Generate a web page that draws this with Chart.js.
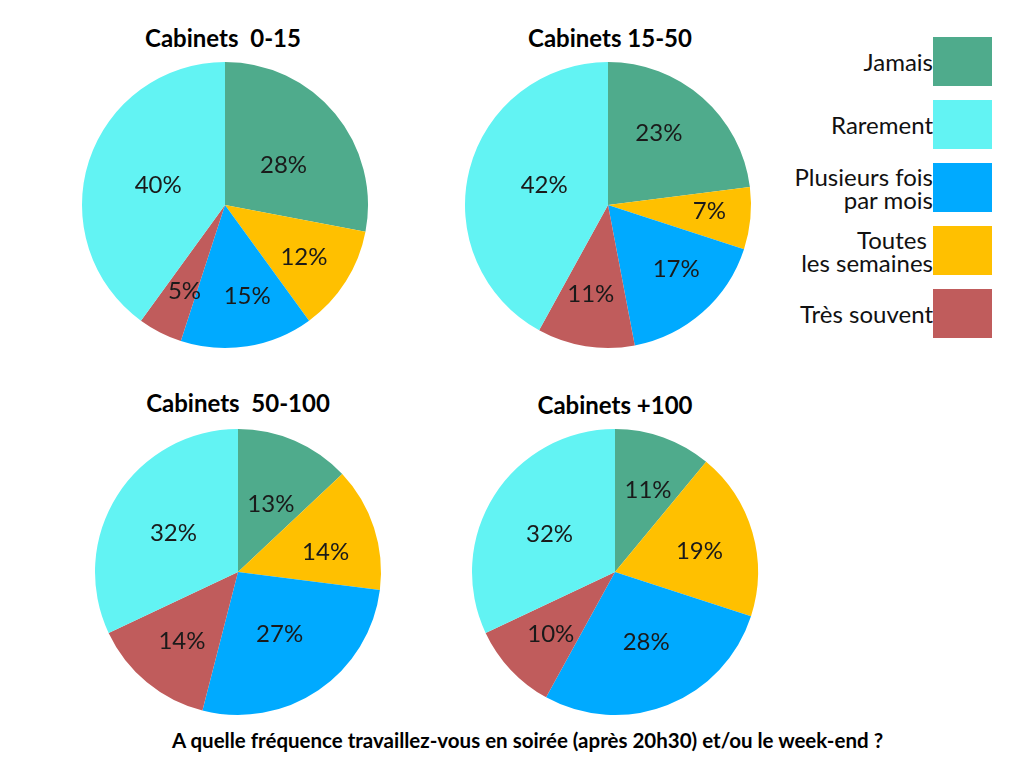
<!DOCTYPE html>
<html>
<head>
<meta charset="utf-8">
<script src="https://cdn.jsdelivr.net/npm/chart.js@4.4.1/dist/chart.umd.min.js"></script>
<style>
  body { margin: 0; background: #fff; font-family: Lato, sans-serif; }
  #page { position: relative; width: 1024px; height: 768px; overflow: hidden; }
  .pie { position: absolute; width: 300px; height: 300px; }
  .title { position: absolute; width: 300px; font-weight: bold; font-size: 24px; line-height: 24px;
           text-align: center; white-space: pre; color: #000; }
  #legend { position: absolute; left: 650px; top: 37px; width: 342px; }
  .leg-row { display: flex; justify-content: flex-end; align-items: center; height: 49px; margin-bottom: 14px; }
  .leg-text { text-align: right; font-size: 24px; line-height: 23px; white-space: pre; color: #111; }
  .leg-box { width: 59px; height: 49px; flex: none; }
  #note { position: absolute; left: 0; width: 1055px; top: 730px; text-align: center; font-weight: bold;
          font-size: 20.5px; line-height: 20.5px; color: #000; white-space: nowrap; }
</style>
</head>
<body>
<div id="page">
  <div id="legend"></div>
  <div id="note">A quelle fréquence travaillez-vous en soirée (après 20h30) et/ou le week-end ?</div>
</div>
<script>
// slice order, clockwise from 12 o'clock
const categories = ['Jamais', 'Toutes \nles semaines', 'Plusieurs fois\npar mois', 'Très souvent', 'Rarement'];
const colors = ['#4fab8c', '#ffc000', '#00aaff', '#c05c5c', '#62f3f3'];
const legendOrder = [0, 4, 2, 1, 3];

const titles = ['Cabinets  0-15', 'Cabinets 15-50', 'Cabinets  50-100', 'Cabinets +100'];
const cab0_15 = [28, 12, 15, 5, 40];
const cab15_50 = [23, 7, 17, 11, 42];
const cab50_100 = [13, 14, 27, 14, 32];
const cab100 = [11, 19, 28, 10, 32];
const series = [cab0_15, cab15_50, cab50_100, cab100];

// where each pie sits and where its labels go (radius fraction, angle nudge in degrees)
const centers = [[225, 205], [608, 205], [238, 572], [615, 572]];
const titleBaselines = [47, 47, 412, 414];
const titleCenters = [223, 610, 238, 615];
const labelRadius = [
  [0.50, 0.66, 0.65, 0.66, 0.49],
  [0.62, 0.71, 0.65, 0.63, 0.47],
  [0.53, 0.63, 0.52, 0.62, 0.53],
  [0.62, 0.61, 0.53, 0.62, 0.53]
];
const labelNudge = [
  [4.6, 0.8, -4.8, -1.6, -0.4],
  [-6.4, -2.6, -5.8, 2, 3.9],
  [2.3, 4.6, 0.2, -0.4, -0.8],
  [2.1, 1.7, -2.7, -0.4, -2.1]
];

const page = document.getElementById('page');

const pctLabels = {
  id: 'pctLabels',
  afterDatasetsDraw(chart) {
    const ctx = chart.ctx;
    const meta = chart.getDatasetMeta(0);
    const opts = chart.options.plugins.pctLabels;
    ctx.save();
    ctx.font = '24px Lato';
    ctx.fillStyle = '#1a1a1a';
    ctx.textAlign = 'center';
    ctx.textBaseline = 'middle';
    meta.data.forEach(function (arc, i) {
      const p = arc.getProps(['x', 'y', 'startAngle', 'endAngle', 'outerRadius'], true);
      const mid = (p.startAngle + p.endAngle) / 2 + opts.nudge[i] * Math.PI / 180;
      const r = p.outerRadius * opts.radius[i];
      ctx.fillText(chart.data.datasets[0].data[i] + '%', p.x + Math.cos(mid) * r, p.y + Math.sin(mid) * r + 1);
    });
    ctx.restore();
  }
};

series.forEach(function (vals, k) {
  const c = centers[k];
  const wrap = document.createElement('div');
  wrap.className = 'pie';
  wrap.style.left = (c[0] - 150) + 'px';
  wrap.style.top = (c[1] - 150) + 'px';
  const cv = document.createElement('canvas');
  cv.width = 300; cv.height = 300;
  wrap.appendChild(cv);
  page.appendChild(wrap);

  const t = document.createElement('div');
  t.className = 'title';
  t.textContent = titles[k];
  t.style.left = (titleCenters[k] - 150) + 'px';
  t.style.top = (titleBaselines[k] - 21) + 'px';
  page.appendChild(t);

  new Chart(cv, {
    type: 'pie',
    data: {
      labels: categories,
      datasets: [{
        data: vals,
        backgroundColor: colors,
        borderWidth: 0,
        hoverOffset: 0
      }]
    },
    options: {
      responsive: false,
      animation: false,
      events: [],
      radius: 143,
      layout: { padding: 0 },
      plugins: {
        legend: { display: false },
        tooltip: { enabled: false },
        pctLabels: { radius: labelRadius[k], nudge: labelNudge[k] }
      }
    },
    plugins: [pctLabels]
  });
});

const legend = document.getElementById('legend');
legendOrder.forEach(function (i) {
  const row = document.createElement('div');
  row.className = 'leg-row';
  row.innerHTML = '<div class="leg-text"></div><div class="leg-box"></div>';
  row.firstChild.textContent = categories[i];
  row.lastChild.style.background = colors[i];
  legend.appendChild(row);
});
</script>
</body>
</html>
